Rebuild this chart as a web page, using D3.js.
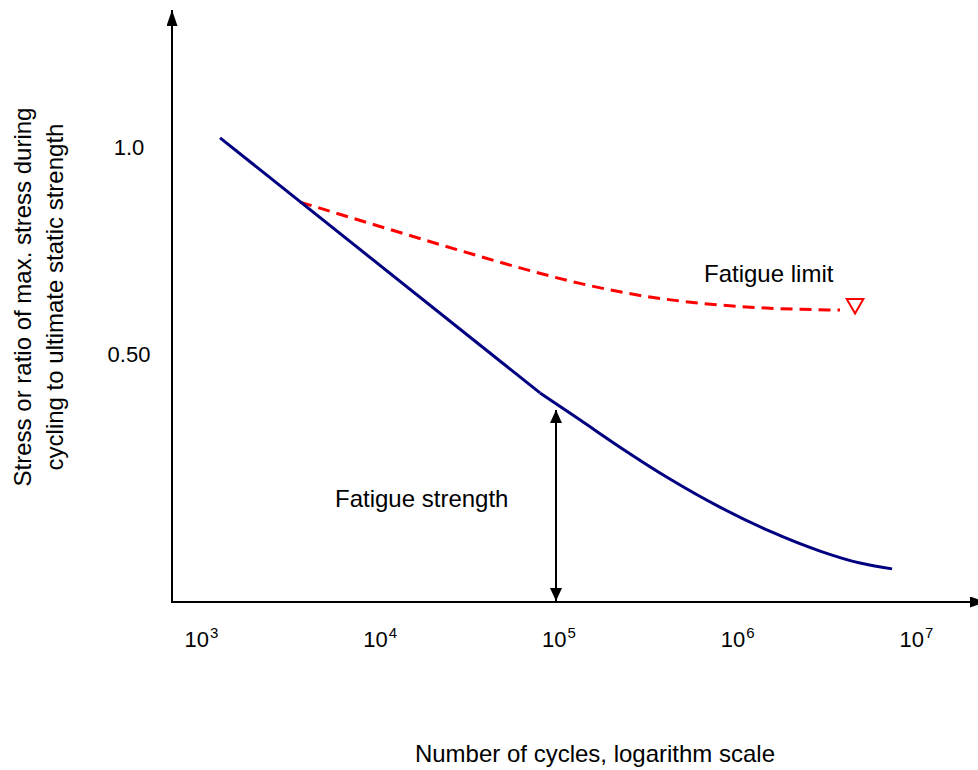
<!DOCTYPE html>
<html>
<head>
<meta charset="utf-8">
<script src="https://cdn.jsdelivr.net/npm/d3@7"></script>
<style>
  html, body { margin: 0; padding: 0; background: #fff; }
  svg { display: block; }
  text { font-family: Arial, "Liberation Sans", sans-serif; fill: #000; }
</style>
</head>
<body>
<svg id="chart" width="978" height="770"></svg>
<script>
// ---- data ----
const cycleTicks = [1e3, 1e4, 1e5, 1e6, 1e7];
const cycleTickExponents = ["3", "4", "5", "6", "7"];
const ratioTicks = [1.0, 0.5];
const ratioTickLabels = ["1.0", "0.50"];

// S-N curve: straight part then curved part (break at the knee)
const snStraightCycles = [1320, 81400];
const snStraightRatio  = [1.022, 0.406];
const snCurveCycles = [81400, 136000, 228000, 434000, 826000, 1570000, 3000000, 5020000, 7590000];
const snCurveRatio  = [0.406, 0.341, 0.275, 0.198, 0.130, 0.072, 0.024, -0.005, -0.019];

// Fatigue limit (dashed)
const limitCycles = [3700, 10360, 29030, 62900, 136200, 295100, 639000, 1384000, 3880000];
const limitRatio  = [0.867, 0.808, 0.750, 0.708, 0.6705, 0.6415, 0.6227, 0.6118, 0.606];
const limitMarkerCycles = [4.71e6];
const limitMarkerRatio  = [0.621];

// Fatigue strength arrow
const strengthCycles = [1e5];
const strengthRatio  = [0.365];

const labels = {
  yTitle1: "Stress or ratio of max. stress during",
  yTitle2: "cycling to ultimate static strength",
  xTitle: "Number of cycles, logarithm scale",
  limit: "Fatigue limit",
  strength: "Fatigue strength"
};

// ---- layout ----
const svg = d3.select("#chart");
const axisX = 172, axisY = 602;

const x = d3.scaleLog().domain([1e3, 1e7]).range([198.5, 913.5]);
const y = d3.scaleLinear().domain([0.5, 1.0]).range([354, 147]);

// arrow markers
const defs = svg.append("defs");
function arrowMarker(id, w, h) {
  defs.append("marker")
    .attr("id", id)
    .attr("viewBox", `0 0 ${h} ${w}`)
    .attr("refX", h).attr("refY", w / 2)
    .attr("markerWidth", h).attr("markerHeight", w)
    .attr("markerUnits", "userSpaceOnUse")
    .attr("orient", "auto-start-reverse")
    .append("path")
    .attr("d", `M0,0L${h},${w / 2}L0,${w}Z`)
    .attr("fill", "#000");
}
arrowMarker("axisArrow", 11, 16);
arrowMarker("dimArrow", 12, 13);

// axes lines with arrows
svg.append("line")
  .attr("x1", axisX).attr("y1", axisY + 1)
  .attr("x2", axisX).attr("y2", 10)
  .attr("stroke", "#000").attr("stroke-width", 2)
  .attr("marker-end", "url(#axisArrow)");
svg.append("line")
  .attr("x1", axisX - 1).attr("y1", axisY)
  .attr("x2", 986).attr("y2", axisY)
  .attr("stroke", "#000").attr("stroke-width", 2)
  .attr("marker-end", "url(#axisArrow)");

// x tick labels
const gx = svg.append("g")
  .attr("transform", `translate(0,${axisY})`)
  .call(d3.axisBottom(x).tickValues(cycleTicks).tickSize(0).tickFormat(() => ""));
gx.select(".domain").remove();
gx.selectAll(".tick text").each(function(d, i) {
  const t = d3.select(this)
    .attr("text-anchor", "start")
    .attr("x", -14.5).attr("y", 45).attr("dy", 0)
    .attr("font-size", 22)
    .attr("fill", "#000");
  t.text(null);
  t.append("tspan").text("10");
  t.append("tspan").attr("dx", 1).attr("dy", -9).attr("font-size", 15).text(cycleTickExponents[i]);
});

// y tick labels
const gy = svg.append("g")
  .attr("transform", `translate(${axisX},0)`)
  .call(d3.axisLeft(y).tickValues(ratioTicks).tickSize(0)
    .tickFormat((d, i) => ratioTickLabels[i]));
gy.select(".domain").remove();
gy.selectAll(".tick text")
  .attr("text-anchor", "middle")
  .attr("x", -43).attr("dy", "0.36em")
  .attr("font-size", 22)
  .attr("fill", "#000");

// lines
const line = d3.line().x(d => x(d[0])).y(d => y(d[1]));
const straight = snStraightCycles.map((c, i) => [c, snStraightRatio[i]]);
const curve = snCurveCycles.map((c, i) => [c, snCurveRatio[i]]);
const limit = limitCycles.map((c, i) => [c, limitRatio[i]]);

svg.append("path")
  .attr("d", line.curve(d3.curveMonotoneX)(limit))
  .attr("fill", "none").attr("stroke", "#ff0000")
  .attr("stroke-width", 3).attr("stroke-dasharray", "12,7");

svg.append("path")
  .attr("d", line.curve(d3.curveLinear)(straight))
  .attr("fill", "none").attr("stroke", "#000080")
  .attr("stroke-width", 3).attr("stroke-linejoin", "round");
svg.append("path")
  .attr("d", line.curve(d3.curveMonotoneX)(curve))
  .attr("fill", "none").attr("stroke", "#000080")
  .attr("stroke-width", 3).attr("stroke-linejoin", "round");

// fatigue limit marker (downward triangle)
svg.selectAll(".limitMarker")
  .data(limitMarkerCycles.map((c, i) => [c, limitMarkerRatio[i]]))
  .join("path")
  .attr("class", "limitMarker")
  .attr("transform", d => `translate(${x(d[0])},${y(d[1])}) rotate(180)`)
  .attr("d", d3.symbol().type(d3.symbolTriangle).size(120))
  .attr("fill", "#fff").attr("stroke", "#ff0000").attr("stroke-width", 2);

// fatigue strength double arrow
svg.selectAll(".strengthArrow")
  .data(strengthCycles.map((c, i) => [c, strengthRatio[i]]))
  .join("line")
  .attr("class", "strengthArrow")
  .attr("x1", d => x(d[0])).attr("x2", d => x(d[0]))
  .attr("y1", axisY - 1).attr("y2", d => y(d[1]))
  .attr("stroke", "#000").attr("stroke-width", 2)
  .attr("marker-start", "url(#dimArrow)")
  .attr("marker-end", "url(#dimArrow)");

// annotations
svg.append("text").attr("x", 704).attr("y", 282).attr("font-size", 24).text(labels.limit);
svg.append("text").attr("x", 335).attr("y", 507).attr("font-size", 24).text(labels.strength);

// axis titles
svg.append("text")
  .attr("transform", "translate(30.5,297) rotate(-90)")
  .attr("text-anchor", "middle").attr("font-size", 24).text(labels.yTitle1);
svg.append("text")
  .attr("transform", "translate(62.5,297) rotate(-90)")
  .attr("text-anchor", "middle").attr("font-size", 24).text(labels.yTitle2);
svg.append("text")
  .attr("x", 595).attr("y", 762)
  .attr("text-anchor", "middle").attr("font-size", 24).text(labels.xTitle);
</script>
</body>
</html>
